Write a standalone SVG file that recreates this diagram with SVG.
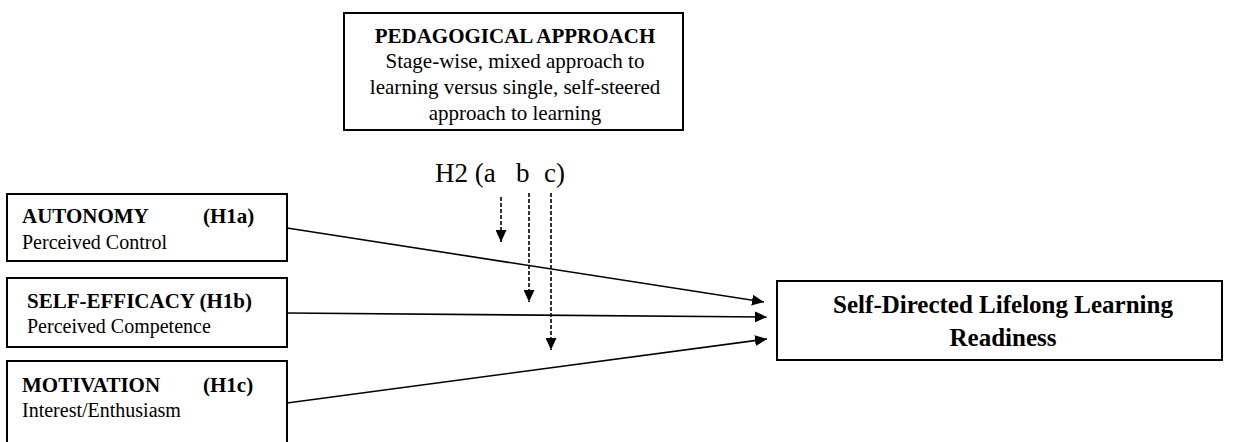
<svg xmlns="http://www.w3.org/2000/svg" width="1233" height="442" viewBox="0 0 1233 442">
<style>
.box{fill:#fff;stroke:#000;stroke-width:2}
.t{font-family:"Liberation Serif","Times New Roman",serif;fill:#000}
.b{font-weight:bold}
.c{text-anchor:middle}
.ln{stroke:#000;stroke-width:1.6;fill:none}
.dash{stroke:#000;stroke-width:1.6;fill:none;stroke-dasharray:4 2}
</style>
<defs>
<marker id="ah" viewBox="0 0 10 10" refX="10" refY="5" markerWidth="12" markerHeight="11" preserveAspectRatio="none" markerUnits="userSpaceOnUse" orient="auto">
<path d="M0,0 L10,5 L0,10 Z" fill="#000"/>
</marker>
</defs>
<rect width="1233" height="442" fill="#fff"/>
<g id="pedagogical">
<rect class="box" x="344" y="13" width="339" height="117"/>
<text class="t b c" x="515" y="43" font-size="21">PEDAGOGICAL APPROACH</text>
<text class="t c" x="515" y="68" font-size="21">Stage-wise, mixed approach to</text>
<text class="t c" x="515" y="94" font-size="21">learning versus single, self-steered</text>
<text class="t c" x="515" y="120" font-size="21">approach to learning</text>
</g>
<g id="h2label">
<text class="t" x="435" y="182" font-size="27">H2 (a<tspan x="516">b</tspan><tspan x="544">c)</tspan></text>
</g>
<g id="autonomy">
<rect class="box" x="7" y="194" width="280" height="67"/>
<text class="t b" x="22" y="223" font-size="21">AUTONOMY</text>
<text class="t b" x="203" y="223" font-size="21">(H1a)</text>
<text class="t" x="22" y="249" font-size="20">Perceived Control</text>
</g>
<g id="selfefficacy">
<rect class="box" x="7" y="278" width="280" height="69"/>
<text class="t b" x="27" y="308" font-size="21">SELF-EFFICACY (H1b)</text>
<text class="t" x="27" y="333" font-size="20">Perceived Competence</text>
</g>
<g id="motivation">
<rect class="box" x="7" y="361" width="280" height="90"/>
<text class="t b" x="22" y="392" font-size="21">MOTIVATION</text>
<text class="t b" x="203" y="392" font-size="21">(H1c)</text>
<text class="t" x="22" y="417" font-size="20">Interest/Enthusiasm</text>
</g>
<g id="outcome">
<rect class="box" x="777" y="281" width="445" height="79"/>
<text class="t b c" x="1003" y="313" font-size="25">Self-Directed Lifelong Learning</text>
<text class="t b c" x="1003" y="346" font-size="25">Readiness</text>
</g>
<g id="connectors">
<line class="ln" x1="287" y1="228" x2="764" y2="302" marker-end="url(#ah)"/>
<line class="ln" x1="287" y1="313" x2="767" y2="317" marker-end="url(#ah)"/>
<line class="ln" x1="287" y1="403" x2="767" y2="339" marker-end="url(#ah)"/>
<line class="dash" x1="501" y1="197" x2="501" y2="242" marker-end="url(#ah)"/>
<line class="dash" x1="529" y1="193" x2="529" y2="302" marker-end="url(#ah)"/>
<line class="dash" x1="551" y1="193" x2="551" y2="350" marker-end="url(#ah)"/>
</g>
</svg>
